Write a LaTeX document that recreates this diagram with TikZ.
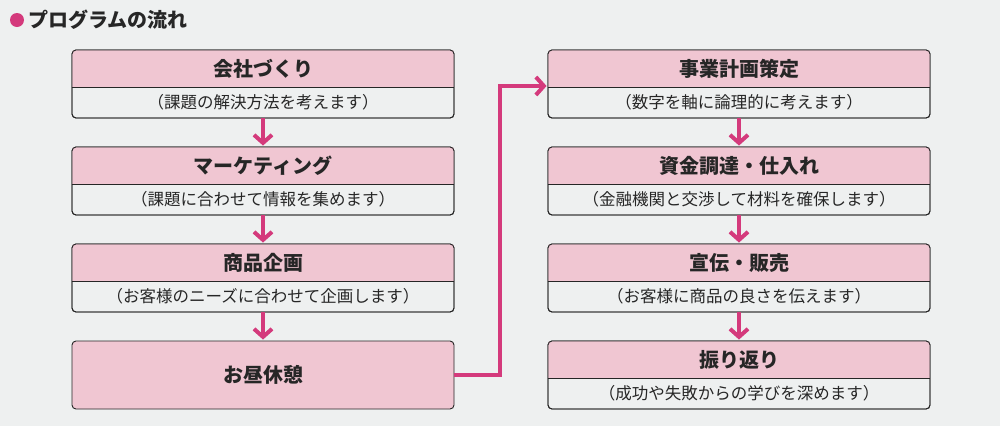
\documentclass[tikz,border=0pt]{standalone}
\usepackage{fontspec}
\setmainfont{Noto Sans CJK JP}
\usetikzlibrary{arrows.meta}
\definecolor{pk}{HTML}{F0C6D2}
\definecolor{ar}{HTML}{D43A7C}
\definecolor{bg}{HTML}{EEF0F0}
\tikzset{
  box/.style={draw=black!85, line width=0.9pt, rounded corners=4pt, minimum width=382pt, minimum height=68pt, inner sep=0pt},
  ttl/.style={font=\bfseries\fontsize{20pt}{22pt}\selectfont, text=black!85},
  sub/.style={font=\fontsize{16.5pt}{18pt}\selectfont, text=black!85},
  flow/.style={draw=ar, line width=4pt, -{Straight Barb[length=8pt,width=18pt,line width=4pt]}},
}
\newcommand{\stepbox}[6]{% name, cx, ytop, split, title, sub
  \node[box] (#1) at (#2,#3+34) {};
  \begin{scope}
    \clip[rounded corners=4pt] (#1.north west) rectangle (#1.south east);
    \fill[pk] (#1.north west) rectangle ([yshift=-#4pt]#1.north east);
  \end{scope}
  \draw[black!85, line width=0.6pt] ([yshift=-#4pt]#1.north west) -- ([yshift=-#4pt]#1.north east);
  \node[box, fill=none] at (#1) {};
  \node[ttl] (#1t) at ([yshift=-#4pt/2]#1.north) {#5};
  \node[sub] (#1s) at ([yshift=-#4pt/2-34pt]#1.north) {#6};
}
\begin{document}
\begin{tikzpicture}[x=1pt,y=-1pt]
\fill[bg] (0,0) rectangle (1000,426);
\useasboundingbox (0,0) rectangle (1000,426);
\fill[ar] (17,20) circle (7);
\node[anchor=west, font=\bfseries\fontsize{20pt}{22pt}\selectfont, text=black!85] (title) at (25,20) {プログラムの流れ};
\stepbox{a}{263}{50}{38}{会社づくり}{（課題の解決方法を考えます）}
\stepbox{b}{263}{147}{38}{マーケティング}{（課題に合わせて情報を集めます）}
\stepbox{c}{263}{244}{38}{商品企画}{（お客様のニーズに合わせて企画します）}
\node[box, fill=pk] (d) at (263,375) {};
\node[ttl] (dt) at (d) {お昼休憩};
\stepbox{e}{739}{50}{38}{事業計画策定}{（数字を軸に論理的に考えます）}
\stepbox{f}{739}{147}{38}{資金調達・仕入れ}{（金融機関と交渉して材料を確保します）}
\stepbox{g}{739}{244}{38}{宣伝・販売}{（お客様に商品の良さを伝えます）}
\stepbox{h}{739}{341}{38}{振り返り}{（成功や失敗からの学びを深めます）}
\foreach \u/\v in {a/b,b/c,c/d,e/f,f/g,g/h}{
  \draw[flow] (\u.south) -- ([yshift=1pt]\v.north);
}
\coordinate (k1) at (500,375);
\coordinate (k2) at (500,86);
\draw[flow, rounded corners=0pt] (d.east) -- (k1) -- (k2) -- ([xshift=-1pt]e.west|-k2);
\end{tikzpicture}
\end{document}
